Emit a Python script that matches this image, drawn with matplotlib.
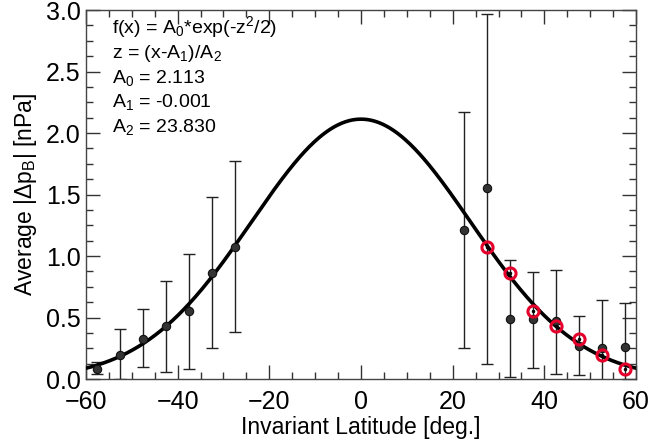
import numpy as np
import matplotlib
matplotlib.use("Agg")
import matplotlib.pyplot as plt
from matplotlib.ticker import MultipleLocator

plt.rcParams['font.family'] = ['Liberation Sans', 'DejaVu Sans']
plt.rcParams['mathtext.fontset'] = 'custom'
plt.rcParams['mathtext.rm'] = 'Liberation Sans'
plt.rcParams['mathtext.it'] = 'Liberation Sans'

# Data
lat_south = [-57.5, -52.5, -47.5, -42.5, -37.5, -32.5, -27.5]
val_south = [0.08, 0.20, 0.33, 0.43, 0.55, 0.86, 1.07]
err_lo_south = [0.04, 0.00, 0.10, 0.06, 0.08, 0.25, 0.38]
err_hi_south = [0.14, 0.41, 0.57, 0.80, 1.02, 1.48, 1.77]

lat_north = [22.5, 27.5, 32.5, 37.5, 42.5, 47.5, 52.5, 57.5]
val_north = [1.21, 1.55, 0.49, 0.485, 0.47, 0.27, 0.25, 0.26]
err_lo_north = [0.25, 0.12, 0.02, 0.09, 0.04, 0.03, -0.10, -0.10]
err_hi_north = [2.17, 2.97, 0.97, 0.87, 0.89, 0.51, 0.64, 0.62]

# mirrored southern values shown at northern latitudes
lat_mirror = [27.5, 32.5, 37.5, 42.5, 47.5, 52.5, 57.5]
val_mirror = [1.07, 0.86, 0.55, 0.43, 0.33, 0.20, 0.08]

# Gaussian fit parameters
A0, A1, A2 = 2.113, -0.001, 23.830

fig = plt.figure(figsize=(6.49, 4.45), dpi=100)
ax = fig.add_axes([0.1325, 0.148, 0.8475, 0.8295])

xs = np.linspace(-62, 62, 600)
ax.plot(xs, A0 * np.exp(-((xs - A1) / A2) ** 2 / 2), color='black', lw=2.6, zorder=3)

def errbars(lat, val, lo, hi):
    val = np.array(val); lo = np.array(lo); hi = np.array(hi)
    ax.errorbar(lat, val, yerr=[val - lo, hi - val], fmt='none', ecolor='#222222',
                elinewidth=1.0, capsize=4, capthick=1.0, zorder=2)
    ax.plot(lat, val, 'o', ms=6, mfc='#333333', mec='#111111', mew=0.8, zorder=4)

errbars(lat_south, val_south, err_lo_south, err_hi_south)
errbars(lat_north, val_north, err_lo_north, err_hi_north)

ax.plot(lat_mirror, val_mirror, 'o', ms=8, mfc='none', mec='#e4002b', mew=2.2, zorder=5)
ax.plot(lat_mirror, val_mirror, 'o', ms=1.5, mfc='black', mec='black', zorder=6)

ax.set_xlim(-60, 60)
ax.set_ylim(0, 3.0)
ax.xaxis.set_major_locator(MultipleLocator(20))
ax.xaxis.set_minor_locator(MultipleLocator(5))
ax.yaxis.set_major_locator(MultipleLocator(0.5))
ax.yaxis.set_minor_locator(MultipleLocator(0.125))
ax.yaxis.set_major_formatter(matplotlib.ticker.FormatStrFormatter('%.1f'))
ax.set_xticks([-60, -40, -20, 0, 20, 40, 60])
ax.set_xticklabels(['\u221260', '\u221240', '\u221220', '0', '20', '40', '60'])
ax.tick_params(which='both', direction='in', top=True, right=True, colors='#333333',
               labelcolor='black', labelsize=18)
ax.tick_params(which='major', length=10, width=1.0)
ax.tick_params(which='minor', length=5, width=1.0)
ax.tick_params(axis='x', which='major', pad=8)
ax.tick_params(axis='y', which='major', pad=4)
for s in ax.spines.values():
    s.set_color('#444444')
    s.set_linewidth(1.0)

ax.set_xlabel('Invariant Latitude [deg.]', fontsize=16.5, labelpad=1)
ax.set_ylabel('Average |$\\Delta$p$_\\mathrm{B}$| [nPa]', fontsize=16.5, labelpad=5)

lines = ['f(x) = A$_0$*exp(-z$^2$/2)',
         'z = (x-A$_1$)/A$_2$',
         'A$_0$ = 2.113',
         'A$_1$ = -0.001',
         'A$_2$ = 23.830']
for i, t in enumerate(lines):
    ax.text(0.048, 0.937 - i * 0.0667, t, transform=ax.transAxes, fontsize=14,
            va='baseline', ha='left')

fig.savefig('out.png', dpi=100)
